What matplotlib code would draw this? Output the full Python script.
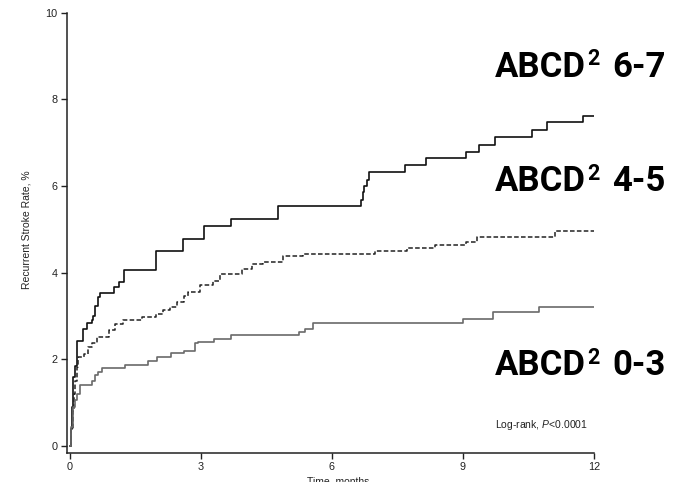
import matplotlib
matplotlib.use("Agg")
import matplotlib.pyplot as plt

# ---- data ----
t_high = [0, 0.02, 0.04, 0.06, 0.08, 0.11, 0.15, 0.17, 0.29, 0.38, 0.50, 0.53, 0.57, 0.63, 0.69,
          1.01, 1.13, 1.24, 1.96, 2.58, 3.07, 3.69, 4.77, 6.66, 6.70, 6.74, 6.80, 6.85, 7.67, 8.15,
          9.08, 9.37, 9.73, 10.57, 10.92, 11.74, 12]
y_high = [0, 0.4, 0.9, 1.3, 1.6, 1.85, 2.1, 2.43, 2.69, 2.83, 2.9, 3.0, 3.23, 3.44, 3.52,
          3.66, 3.78, 4.06, 4.49, 4.77, 5.07, 5.24, 5.54, 5.67, 5.87, 6.0, 6.14, 6.33, 6.48, 6.64,
          6.79, 6.94, 7.12, 7.29, 7.47, 7.62, 7.62]

t_mid = [0, 0.03, 0.06, 0.09, 0.12, 0.15, 0.19, 0.31, 0.42, 0.50, 0.61, 0.90, 1.03, 1.22, 1.64,
         1.98, 2.14, 2.29, 2.44, 2.60, 2.71, 2.98, 3.28, 3.43, 3.93, 4.16, 4.43, 4.87, 5.34, 6.98,
         7.71, 8.36, 9.08, 9.31, 11.11, 12]
y_mid = [0, 0.4, 0.8, 1.2, 1.5, 1.83, 2.06, 2.13, 2.29, 2.38, 2.51, 2.68, 2.81, 2.91, 2.98,
         3.04, 3.13, 3.21, 3.33, 3.47, 3.56, 3.71, 3.81, 3.98, 4.08, 4.19, 4.24, 4.38, 4.44, 4.50,
         4.56, 4.64, 4.71, 4.83, 4.96, 4.96]

t_low = [0, 0.03, 0.06, 0.11, 0.16, 0.23, 0.50, 0.57, 0.65, 0.73, 1.26, 1.79, 2.00, 2.31, 2.61,
         2.86, 2.92, 3.30, 3.68, 5.25, 5.38, 5.57, 9.01, 9.69, 10.75, 12]
y_low = [0, 0.45, 0.9, 1.06, 1.2, 1.41, 1.50, 1.64, 1.71, 1.79, 1.87, 1.96, 2.06, 2.14, 2.20,
         2.37, 2.39, 2.47, 2.56, 2.64, 2.71, 2.83, 2.92, 3.10, 3.21, 3.21]

x_ticks = [0, 3, 6, 9, 12]
y_ticks = [0, 2, 4, 6, 8, 10]
label_main = "ABCD"
label_sup = "2"
label_ranges = ["6-7", "4-5", "0-3"]

plt.rcParams['font.family'] = ['Liberation Sans', 'DejaVu Sans']
plt.rcParams['mathtext.fontset'] = 'custom'
plt.rcParams['mathtext.rm'] = 'Liberation Sans'
plt.rcParams['mathtext.it'] = 'Liberation Sans:italic'

W, H = 679, 482
fig = plt.figure(figsize=(W / 100, H / 100), dpi=100)
ax = fig.add_axes([66.5 / W, 1 - 452.5 / H, (594 - 66.5) / W, (452.5 - 12.7) / H])

ax.plot(t_high, y_high, drawstyle='steps-post', color='#111111', lw=1.2)
ax.plot(t_mid, y_mid, drawstyle='steps-post', color='#222222', lw=1.1, linestyle=(0, (3, 1.5)))
ax.plot(t_low, y_low, drawstyle='steps-post', color='#6a6a6a', lw=1.2)

ax.set_xlim(-0.08, 12)
ax.set_ylim(-0.15, 10)
ax.set_xticks(x_ticks)
ax.set_yticks(y_ticks)
ax.set_xticklabels([str(v) for v in x_ticks])
ax.set_yticklabels([str(v) for v in y_ticks])
for s in ['top', 'right']:
    ax.spines[s].set_visible(False)
for s in ['left', 'bottom']:
    ax.spines[s].set_linewidth(1.1)
    ax.spines[s].set_color('#222222')
ax.tick_params(axis='both', direction='out', length=4.5, width=1.0, labelsize=7.8,
               colors='#222222', pad=2)

fig.text(27 / W, 1 - 230 / H, "Recurrent Stroke Rate, %", rotation=90, ha='center', va='center',
         fontsize=7.5, color='#222222')
fig.text(338 / W, 1 - 477 / H, "Time, months", ha='center', va='top', fontsize=7.5, color='#222222')

fig.text(588 / W, 1 - 428 / H, r"Log-rank, $\it{P}$<0.0001",
         ha='right', va='baseline', fontsize=7.5, color='#222222')

# big group labels: "ABCD" + superscript "2" + range
label_baselines = [76.7, 191.5, 375]
big = dict(fontweight='bold', family=['Roboto', 'DejaVu Sans'], color='black')
for rng, b in zip(label_ranges, label_baselines):
    fig.text(495 / W, 1 - b / H, label_main, ha='left', va='baseline', fontsize=25, **big)
    fig.text(587 / W, 1 - (b - 11.5) / H, label_sup, ha='left', va='baseline', fontsize=15.5, **big)
    fig.text(612 / W, 1 - b / H, rng, ha='left', va='baseline', fontsize=25, **big)

fig.savefig("out.png", dpi=100)
